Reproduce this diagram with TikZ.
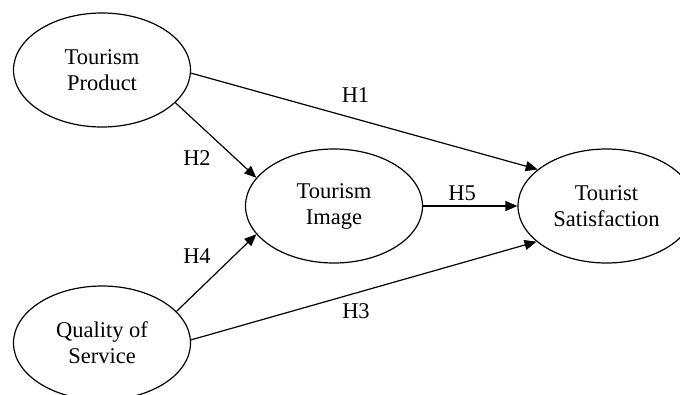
\documentclass[tikz,border=0pt]{standalone}
\usepackage{fontspec}
\setmainfont{Liberation Serif}
\usetikzlibrary{arrows.meta,shapes.geometric}
\tikzset{
  construct/.style={ellipse, draw=black, line width=1.2pt, minimum width=177pt,
                    minimum height=114pt, inner sep=0pt, align=center,
                    font=\fontsize{22.5}{26}\selectfont},
  ar/.style={-{Triangle[length=12pt,width=10pt]}, line width=1.2pt},
  hyp/.style={font=\fontsize{22.5}{26}\selectfont, inner sep=0pt},
}

\begin{document}
\begin{tikzpicture}[x=1pt,y=-1pt]
\useasboundingbox (0,0) rectangle (680,394);

% ================= constructs =================
\node[construct] (product) at (102,70) {Tourism\\Product};
\node[construct] (service) at (102,343) {Quality of\\Service};
\node[construct] (image) at (334,206) {Tourism\\Image};
\node[construct] (satis) at (606.5,206) {Tourist\\Satisfaction};

% ================= paths =================
\draw[ar] (product.-2.6) -- (satis.152.3);
\draw[ar] (product.-24) -- (image.160);
\draw[ar] (service.23.4) -- (image.200.4);
\draw[ar] (service.2) -- (satis.207.4);
\draw[ar] (image.east) -- (satis.west);

% ================= hypothesis labels =================
\node[hyp] (h1) at (355.5,95.5) {H1};
\node[hyp] (h2) at (197,158) {H2};
\node[hyp] (h3) at (356,311) {H3};
\node[hyp] (h4) at (197,255.7) {H4};
\node[hyp] (h5) at (462,193) {H5};

\end{tikzpicture}
\end{document}
